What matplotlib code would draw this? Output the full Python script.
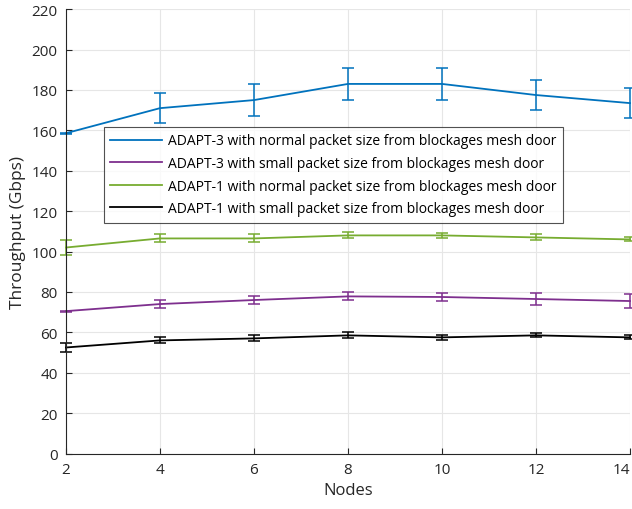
import matplotlib
matplotlib.use('Agg')
from matplotlib import pyplot as plt

nodes = [2, 4, 6, 8, 10, 12, 14]

a3_normal = [158.6, 171, 175, 183, 183, 177.5, 173.5]
a3_normal_err = [0.3, 7.5, 8, 8, 8, 7.5, 7.5]
a3_small = [70.5, 74, 76, 77.8, 77.5, 76.5, 75.5]
a3_small_err = [0.3, 2, 2, 2, 1.8, 3, 3.5]
a1_normal = [102, 106.5, 106.5, 108, 108, 107, 106]
a1_normal_err = [3.5, 2, 2, 1.5, 1.2, 1.5, 1]
a1_small = [52.5, 56, 57, 58.5, 57.5, 58.5, 57.5]
a1_small_err = [2.3, 1.5, 1.5, 1.5, 1.3, 1, 1]

labels = [
    'ADAPT-3 with normal packet size from blockages mesh door',
    'ADAPT-3 with small packet size from blockages mesh door',
    'ADAPT-1 with normal packet size from blockages mesh door',
    'ADAPT-1 with small packet size from blockages mesh door',
]
colors = ['#0072BD', '#7E2F8E', '#77AC30', '#000000']

plt.rcParams['font.family'] = ['Open Sans', 'DejaVu Sans']

fig = plt.figure(figsize=(6.32, 5.1), dpi=100)
ax = fig.add_axes([0.1044, 0.1088, 0.8924, 0.8712])

series = [(a3_normal, a3_normal_err), (a3_small, a3_small_err),
          (a1_normal, a1_normal_err), (a1_small, a1_small_err)]
for (vals, errs), lab, c in zip(series, labels, colors):
    ax.errorbar(nodes, vals, yerr=errs, color=c, lw=1.3, capsize=4,
                elinewidth=1.1, capthick=1.1, label=lab, clip_on=False)

ax.set_xlim(2, 14)
ax.set_ylim(0, 220)
ax.set_xticks(nodes)
ax.set_yticks(range(0, 221, 20))
ax.grid(True, color='#e6e6e6', lw=0.8)
ax.set_axisbelow(True)
ax.spines['top'].set_visible(False)
ax.spines['right'].set_visible(False)
for s in ['left', 'bottom']:
    ax.spines[s].set_color('#262626')
    ax.spines[s].set_linewidth(0.8)
ax.tick_params(direction='in', length=4, colors='#262626', labelsize=11, pad=6)
ax.get_xticklabels()[-1].set_horizontalalignment('right')
ax.set_xlabel('Nodes', fontsize=12, color='#262626')
ax.set_ylabel('Throughput (Gbps)', fontsize=12.5, color='#262626')

handles, labs = ax.get_legend_handles_labels()
handles = [h[0] for h in handles]
leg = ax.legend(handles, labs, loc='upper left', bbox_to_anchor=(0.0674, 0.7345),
                borderaxespad=0, fontsize=10, frameon=True, fancybox=False,
                edgecolor='#262626', handlelength=3.75, labelspacing=0.55,
                borderpad=0.45, handletextpad=0.4)
leg.get_frame().set_linewidth(0.8)

plt.savefig('out.png', dpi=100)
plt.close()
